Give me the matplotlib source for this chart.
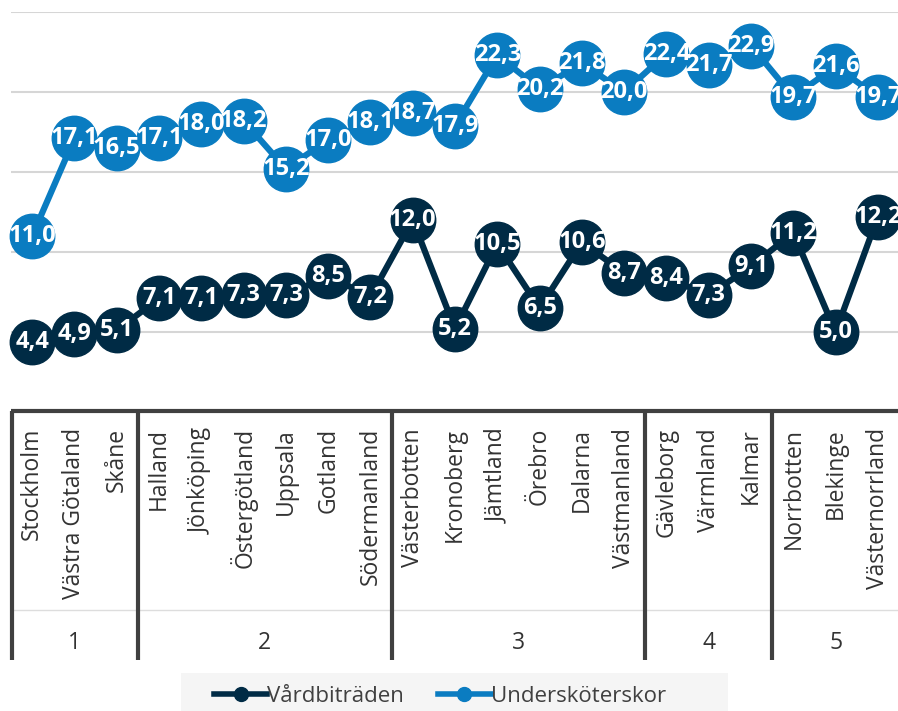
import matplotlib
matplotlib.use("Agg")
import matplotlib.pyplot as plt
from matplotlib.patches import Rectangle
from matplotlib.lines import Line2D

plt.rcParams['font.family'] = ['Open Sans', 'DejaVu Sans']

regions = ["Stockholm", "Västra Götaland", "Skåne",
           "Halland", "Jönköping", "Östergötland", "Uppsala", "Gotland", "Södermanland",
           "Västerbotten", "Kronoberg", "Jämtland", "Örebro", "Dalarna", "Västmanland",
           "Gävleborg", "Värmland", "Kalmar",
           "Norrbotten", "Blekinge", "Västernorrland"]
group_names = ["1", "2", "3", "4", "5"]
group_sizes = [3, 6, 6, 3, 3]

vardbitraden = [4.4, 4.9, 5.1, 7.1, 7.1, 7.3, 7.3, 8.5, 7.2, 12.0, 5.2, 10.5,
                6.5, 10.6, 8.7, 8.4, 7.3, 9.1, 11.2, 5.0, 12.2]
underskoterskor = [11.0, 17.1, 16.5, 17.1, 18.0, 18.2, 15.2, 17.0, 18.1, 18.7, 17.9,
                   22.3, 20.2, 21.8, 20.0, 22.4, 21.7, 22.9, 19.7, 21.6, 19.7]

series = [("Vårdbiträden", vardbitraden, "#002b45"),
          ("Undersköterskor", underskoterskor, "#0a7cc1")]

W, H = 898, 711
fig = plt.figure(figsize=(W / 100, H / 100), dpi=100)
left_px, right_px, top_px, bottom_px = 11, 899, 12, 412
ax = fig.add_axes([left_px / W, 1 - bottom_px / H,
                   (right_px - left_px) / W, (bottom_px - top_px) / H])

n = len(regions)
x = list(range(n))
ax.set_xlim(-0.5, n - 0.5)
ax.set_ylim(0, 25)
for s in ax.spines.values():
    s.set_visible(False)
ax.set_xticks([])
ax.set_yticks([])
for g in [5, 10, 15, 20, 25]:
    ax.axhline(g, color="#d6d6d6", lw=1.5, zorder=0)

for name, vals, col in series:
    ax.plot(x, vals, color=col, lw=4.5, marker="o", ms=32, mec=col, mfc=col,
            zorder=2, clip_on=False)
    for xi, v in zip(x, vals):
        ax.text(xi, v, f"{v:.1f}".replace(".", ","), ha="center", va="center",
                color="white", fontsize=17, fontweight="bold", zorder=3)

# Two-level category axis below the plot
def ay(px):
    return (bottom_px - px) / (bottom_px - top_px)

trans = ax.get_xaxis_transform()
dark = "#404040"
ax.plot([-0.5, n - 0.5], [ay(411), ay(411)], transform=trans, color=dark,
        lw=3, clip_on=False, solid_capstyle="butt")
ax.plot([-0.5, n - 0.5], [ay(610), ay(610)], transform=trans, color="#dddddd",
        lw=1, clip_on=False)
bounds = [0]
for sz in group_sizes:
    bounds.append(bounds[-1] + sz)
for b in bounds[:-1]:
    xb = b - 0.5 + (0.03 if b == 0 else 0)
    ax.plot([xb, xb], [ay(411), ay(660)], transform=trans, color=dark, lw=3,
            clip_on=False, solid_capstyle="butt")
for xi, lab in zip(x, regions):
    ax.text(xi, ay(428), lab, rotation=90, ha="center", va="top",
            transform=trans, fontsize=16.5, color="#333333", clip_on=False)
for i, gname in enumerate(group_names):
    cx = (bounds[i] + bounds[i + 1] - 1) / 2
    ax.text(cx, ay(643), gname, ha="center", va="center", transform=trans,
            fontsize=16.5, color="#333333", clip_on=False)

# Legend on a light panel
fig.patches.append(Rectangle((181 / W, 0), (728 - 181) / W, (711 - 673) / H,
                             transform=fig.transFigure, facecolor="#f5f5f5",
                             edgecolor="none", zorder=0))
handles = [Line2D([0], [0], color=col, lw=4, marker="o", ms=10, mfc=col, mec=col)
           for _, _, col in series]
fig.legend(handles, [s[0] for s in series], loc="center",
           bbox_to_anchor=(440 / W, 1 - 696 / H), ncol=2, frameon=False,
           fontsize=16, handlelength=2.4, handletextpad=0.0, columnspacing=1.5,
           labelcolor="#404040")

fig.savefig("out.png", dpi=100, facecolor="white")
